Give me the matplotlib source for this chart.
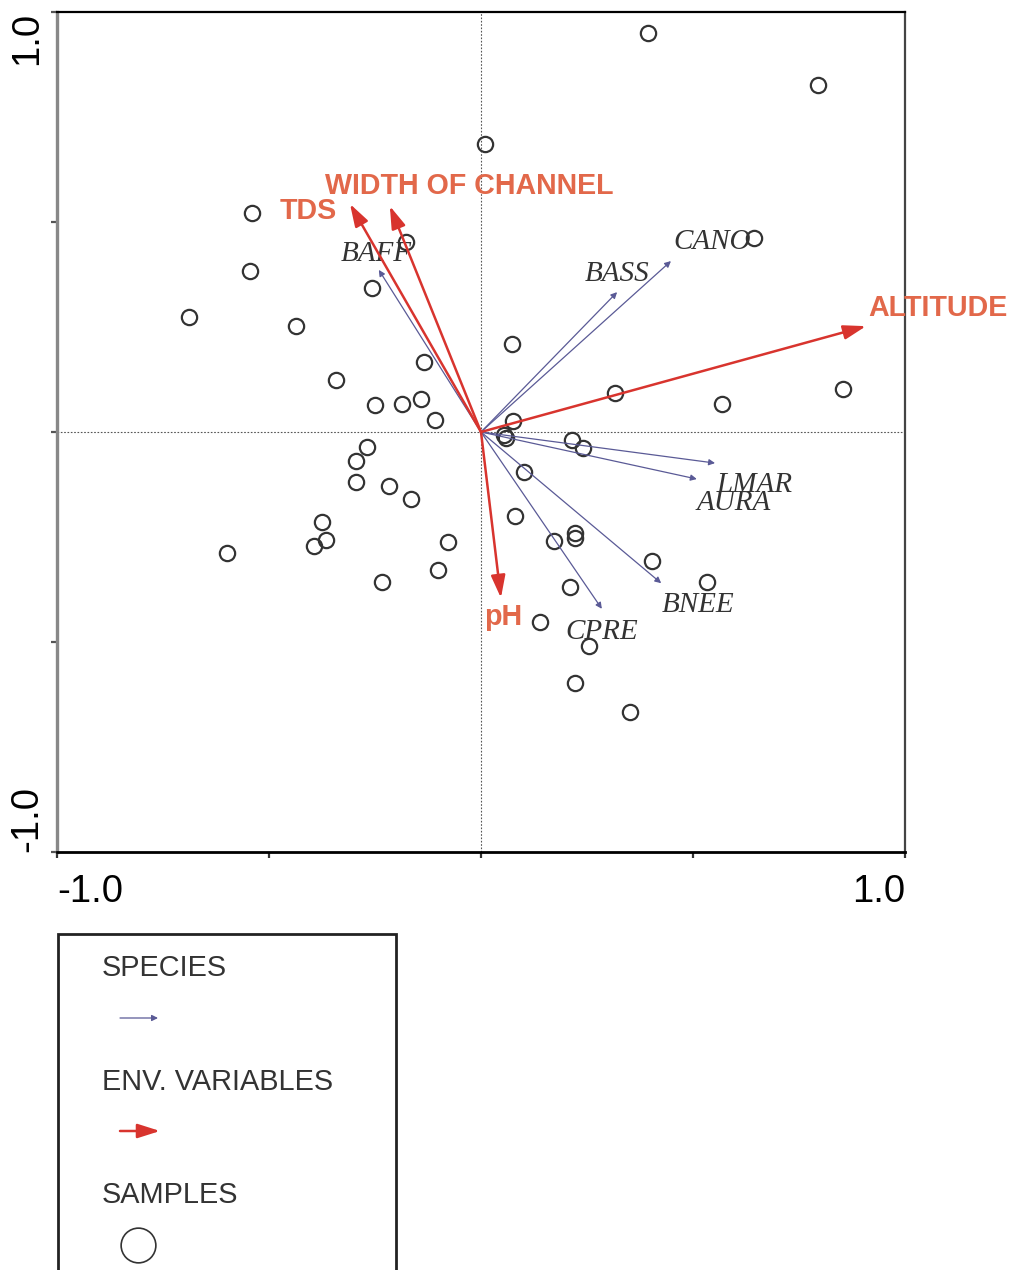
import matplotlib
matplotlib.use("Agg")
import matplotlib.pyplot as plt
from matplotlib.patches import Rectangle, FancyArrowPatch
from matplotlib.lines import Line2D

# ---- ordination scores -------------------------------------------------
sample_x = [0.394, 0.795, 0.009, -0.540, -0.177, 0.644, -0.545, -0.257, -0.689,
            -0.436, 0.073, -0.134, -0.342, 0.854, 0.316, 0.568, -0.250, -0.186,
            -0.142, -0.108, 0.075, 0.054, 0.059, 0.215, 0.241, -0.269, -0.295,
            -0.295, 0.101, -0.217, -0.165, 0.080, -0.375, -0.366, -0.394, -0.599,
            -0.078, 0.222, 0.222, 0.172, -0.101, -0.233, 0.403, 0.533, 0.210,
            0.139, 0.255, 0.222, 0.351]
sample_y = [0.950, 0.826, 0.686, 0.521, 0.452, 0.462, 0.383, 0.343, 0.274,
            0.252, 0.210, 0.167, 0.124, 0.102, 0.093, 0.067, 0.064, 0.067,
            0.079, 0.029, 0.026, -0.007, -0.014, -0.019, -0.038, -0.036, -0.069,
            -0.119, -0.095, -0.129, -0.160, -0.200, -0.214, -0.257, -0.271, -0.288,
            -0.262, -0.240, -0.252, -0.260, -0.329, -0.357, -0.307, -0.357, -0.369,
            -0.452, -0.510, -0.598, -0.667]

species_names = ["BAFF", "BASS", "CANO", "LMAR", "AURA", "BNEE", "CPRE"]
species_x = [-0.241, 0.321, 0.448, 0.552, 0.509, 0.425, 0.285]
species_y = [0.386, 0.333, 0.407, -0.074, -0.112, -0.360, -0.421]

env_names = ["ALTITUDE", "TDS", "WIDTH OF CHANNEL", "pH"]
env_x = [0.908, -0.309, -0.215, 0.047]
env_y = [0.252, 0.543, 0.538, -0.395]

# label placement relative to arrow tips (pixels, alignment)
species_label_offsets = {
    "BAFF": ((-3, 16), "center"),
    "BASS": ((0, 18), "center"),
    "CANO": ((2, 19), "left"),
    "LMAR": ((1, -22), "left"),
    "AURA": ((0, -24), "left"),
    "BNEE": ((1, -22), "left"),
    "CPRE": ((0, -23), "center"),
}
env_label_offsets = {
    "ALTITUDE": ((2, 18), "left"),
    "TDS": ((-13, -7), "right"),
    "WIDTH OF CHANNEL": ((-65, 20), "left"),
    "pH": ((2, -19), "center"),
}

SPECIES_COLOR = "#5a5a96"
ENV_COLOR = "#d8342e"
ENV_TEXT = "#e2684a"
INK = "#333333"
SANS = ["Liberation Sans", "DejaVu Sans"]
SERIF = ["Liberation Serif", "DejaVu Serif"]
ENV_HEAD = "-|>,head_length=0.85,head_width=0.27"

fig = plt.figure(figsize=(10.11, 12.70), dpi=100)
ax = fig.add_axes([57 / 1011, 1 - 852 / 1270, 848 / 1011, 840 / 1270])
ax.set_xlim(-1, 1)
ax.set_ylim(-1, 1)

# spines
ax.spines["left"].set_color("#888888")
ax.spines["left"].set_linewidth(2.4)
ax.spines["bottom"].set_color("black")
ax.spines["bottom"].set_linewidth(2.0)
ax.spines["top"].set_color("black")
ax.spines["top"].set_linewidth(1.6)
ax.spines["right"].set_color("#444444")
ax.spines["right"].set_linewidth(1.6)

# zero lines
ax.axhline(0, color="#555555", lw=0.8, ls=(0, (1.5, 1.5)), zorder=1)
ax.axvline(0, color="#555555", lw=0.8, ls=(0, (1.5, 1.5)), zorder=1)

# ticks
ax.set_xticks([-1, -0.5, 0, 0.5, 1])
ax.set_xticklabels(["-1.0", "", "", "", "1.0"])
ax.set_yticks([-1, -0.5, 0, 0.5, 1])
ax.set_yticklabels(["-1.0", "", "", "", "1.0"])
ax.tick_params(axis="x", direction="out", length=4, width=1.6, color="#333333",
               pad=12, labelsize=27.5)
ax.tick_params(axis="y", direction="out", length=4, width=1.6, color="#555555",
               pad=4.5, labelsize=27.5)
for lab in ax.get_xticklabels() + ax.get_yticklabels():
    lab.set_fontfamily(SANS)
xl = ax.get_xticklabels()
xl[0].set_ha("left")
xl[-1].set_ha("right")
yl = ax.get_yticklabels()
for lab in yl:
    lab.set_rotation(90)
yl[0].set_va("bottom")
yl[-1].set_va("top")

# samples
ax.plot(sample_x, sample_y, ls="none", marker="o", ms=11, mfc="none",
        mec=INK, mew=1.6, zorder=3)

# species arrows
for name, x, y in zip(species_names, species_x, species_y):
    ax.annotate("", xy=(x, y), xytext=(0, 0),
                arrowprops=dict(arrowstyle="-|>", color=SPECIES_COLOR, lw=0.9,
                                mutation_scale=9, shrinkA=0, shrinkB=0),
                zorder=4)
    (dx, dy), ha = species_label_offsets[name]
    ax.annotate(name, xy=(x, y), xytext=(dx, dy), textcoords="offset pixels",
                ha=ha, va="center", fontsize=21, fontstyle="italic",
                family=SERIF, color=INK, zorder=5)

# environmental arrows
for name, x, y in zip(env_names, env_x, env_y):
    ax.annotate("", xy=(x, y), xytext=(0, 0),
                arrowprops=dict(arrowstyle=ENV_HEAD, color=ENV_COLOR, lw=1.8,
                                mutation_scale=16, shrinkA=0, shrinkB=0),
                zorder=6)
    (dx, dy), ha = env_label_offsets[name]
    ax.annotate(name, xy=(x, y), xytext=(dx, dy), textcoords="offset pixels",
                ha=ha, va="center", fontsize=20.6, fontweight="bold",
                family=SANS, color=ENV_TEXT, zorder=7, annotation_clip=False)

# ---- legend box ---------------------------------------------------------
def fx(px):
    return px / 1011


def fy(py):
    return 1 - py / 1270


fig.add_artist(Rectangle((fx(58), fy(1290)), fx(396) - fx(58), fy(934) - fy(1290),
                         transform=fig.transFigure, fill=False, ec="#222222",
                         lw=2.0))

legend_font = dict(fontsize=20.8, family=SANS, color=INK, va="center", ha="left")
fig.text(fx(102), fy(968), "SPECIES", **legend_font)
fig.text(fx(102), fy(1082), "ENV. VARIABLES", **legend_font)
fig.text(fx(102), fy(1195), "SAMPLES", **legend_font)

fig.add_artist(FancyArrowPatch((fx(120), fy(1018)), (fx(158), fy(1018)),
                               transform=fig.transFigure, arrowstyle="-|>",
                               color=SPECIES_COLOR, lw=0.9, mutation_scale=9,
                               shrinkA=0, shrinkB=0))
fig.add_artist(FancyArrowPatch((fx(120), fy(1131)), (fx(160), fy(1131)),
                               transform=fig.transFigure, arrowstyle=ENV_HEAD,
                               color=ENV_COLOR, lw=1.8, mutation_scale=16,
                               shrinkA=0, shrinkB=0))
fig.add_artist(Line2D([fx(138)], [fy(1245)], transform=fig.transFigure,
                      ls="none", marker="o", ms=25, mfc="none", mec=INK, mew=1.2))

fig.savefig("out.png", dpi=100)
